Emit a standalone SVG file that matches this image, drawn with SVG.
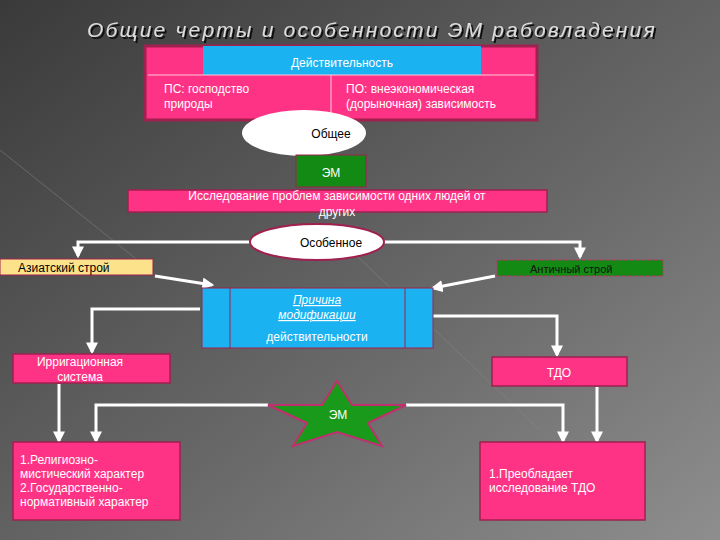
<svg xmlns="http://www.w3.org/2000/svg" width="720" height="540" viewBox="0 0 720 540">
<defs>
<linearGradient id="bg" x1="0" y1="0" x2="1" y2="1">
<stop offset="0" stop-color="#3a3a3a"/><stop offset="0.6" stop-color="#6a6a6a"/><stop offset="1" stop-color="#8e8e8e"/>
</linearGradient>
<filter id="sh" x="-5%" y="-30%" width="110%" height="160%"><feDropShadow dx="2" dy="2" stdDeviation="0.5" flood-color="#111"/></filter>
<marker id="ar" viewBox="0 0 10 10" refX="8" refY="5" markerWidth="4" markerHeight="4" orient="auto"><path d="M0,0 L10,5 L0,10 z" fill="#fff"/></marker>
<style>
.t{font-family:"Liberation Sans",Arial,sans-serif;font-size:12px;fill:#fff}
.pk{fill:#ff3385;stroke:#a0204f;stroke-width:1.5}
.c{stroke:#fff;stroke-width:3;fill:none;marker-end:url(#ar)}
</style>
</defs>
<rect width="720" height="540" fill="url(#bg)"/>
<g stroke="#888" stroke-width="1" opacity="0.5"><line x1="0" y1="150" x2="150" y2="270"/><line x1="340" y1="240" x2="540" y2="430"/><line x1="720" y1="390" x2="620" y2="520"/></g>
<text x="372" y="37" text-anchor="middle" font-family="Liberation Sans,Arial,sans-serif" font-size="21" font-style="italic" fill="#ddd" letter-spacing="2.2" filter="url(#sh)">Общие черты и особенности ЭМ рабовладения</text>
<g id="connectors">
<path class="c" d="M250,242 H78 V256"/>
<path class="c" d="M384,242 H580 V257"/>
<path class="c" d="M155,276 L212,285"/>
<path class="c" d="M495,276 L433,288"/>
<path class="c" d="M200,309 H92 V352"/>
<path class="c" d="M433,316 H557 V355"/>
<path class="c" d="M59,384 V441"/>
<path class="c" d="M597,387 V441"/>
<path class="c" d="M268,405 H96 V441"/>
<path class="c" d="M406,405 H563 V441"/>
</g>
<g id="real">
<rect x="145" y="46" width="392" height="74" fill="#ff3385" stroke="#a0204f" stroke-width="3"/>
<rect x="203" y="46" width="278" height="29" fill="#1ab2f0"/>
<line x1="148" y1="75" x2="534" y2="75" stroke="#fcd" stroke-width="1"/>
<line x1="331" y1="75" x2="331" y2="118" stroke="#fcd" stroke-width="1"/>
<text class="t" x="342" y="67" text-anchor="middle" font-size="15">Действительность</text>
<text class="t" x="164" y="93">ПС: господство</text>
<text class="t" x="164" y="108">природы</text>
<text class="t" x="346" y="93">ПО: внеэкономическая</text>
<text class="t" x="346" y="108">(дорыночная) зависимость</text>
</g>
<g id="common"><ellipse cx="304" cy="133" rx="62" ry="23" fill="#fff"/><text x="331" y="138" text-anchor="middle" font-family="Liberation Sans,Arial,sans-serif" font-size="12">Общее</text></g>
<g id="em1"><rect x="296" y="155" width="70" height="32" fill="#138a13" stroke="#a0204f"/><text class="t" x="331" y="177" text-anchor="middle" font-size="15">ЭМ</text></g>
<g id="research"><rect x="128" y="190" width="419" height="22" class="pk"/><text class="t" x="337" y="200" text-anchor="middle">Исследование проблем зависимости одних людей от</text><text class="t" x="337" y="216" text-anchor="middle">других</text></g>
<g id="special"><ellipse cx="317" cy="242" rx="67" ry="18" fill="#fff" stroke="#a0204f" stroke-width="2"/><text x="331" y="247" text-anchor="middle" font-family="Liberation Sans,Arial,sans-serif" font-size="12">Особенное</text></g>
<g id="asia"><rect x="0" y="259" width="153" height="16" fill="#fce28a" stroke="#a0204f"/><text x="18" y="272" font-family="Liberation Sans,Arial,sans-serif" font-size="12">Азиатский строй</text></g>
<g id="antic"><rect x="497" y="260" width="166" height="16" fill="#138a13" stroke="#c0306f" stroke-dasharray="2,1"/><text x="530" y="273" font-family="Liberation Sans,Arial,sans-serif" font-size="11" fill="#111">Античный строй</text></g>
<g id="reason"><rect x="202" y="288" width="231" height="60" fill="#1ab2f0" stroke="#a0204f"/><line x1="230" y1="288" x2="230" y2="348" stroke="#a0204f"/><line x1="405" y1="288" x2="405" y2="348" stroke="#a0204f"/>
<text class="t" x="317" y="304" text-anchor="middle" font-style="italic" text-decoration="underline" font-size="11">Причина</text>
<text class="t" x="317" y="319" text-anchor="middle" font-style="italic" text-decoration="underline" font-size="11">модификации</text>
<text class="t" x="317" y="341" text-anchor="middle" font-size="15">действительности</text></g>
<g id="irr"><rect x="13" y="354" width="157" height="29" class="pk"/><text class="t" x="80" y="366" text-anchor="middle">Ирригационная</text><text class="t" x="80" y="381" text-anchor="middle">система</text></g>
<g id="tdo"><rect x="492" y="357" width="135" height="29" class="pk"/><text class="t" x="559" y="377" text-anchor="middle">ТДО</text></g>
<g id="em2"><polygon points="337,381 352,405 406,405 368,423 382,446 337,432 293,446 307,423 268,405 322,405" fill="#1a9a1a" stroke="#c0306f" stroke-width="2"/><text class="t" x="338" y="419" text-anchor="middle" font-size="14">ЭМ</text></g>
<g id="bl"><rect x="13" y="442" width="167" height="78" class="pk"/>
<text class="t" x="20" y="464" font-size="11">1.Религиозно-</text><text class="t" x="20" y="478" font-size="11">мистический характер</text><text class="t" x="20" y="492" font-size="11">2.Государственно-</text><text class="t" x="20" y="506" font-size="11">нормативный характер</text></g>
<g id="br"><rect x="480" y="442" width="165" height="78" class="pk"/>
<text class="t" x="489" y="478" font-size="11">1.Преобладает</text><text class="t" x="489" y="492" font-size="11">исследование ТДО</text></g>
</svg>
